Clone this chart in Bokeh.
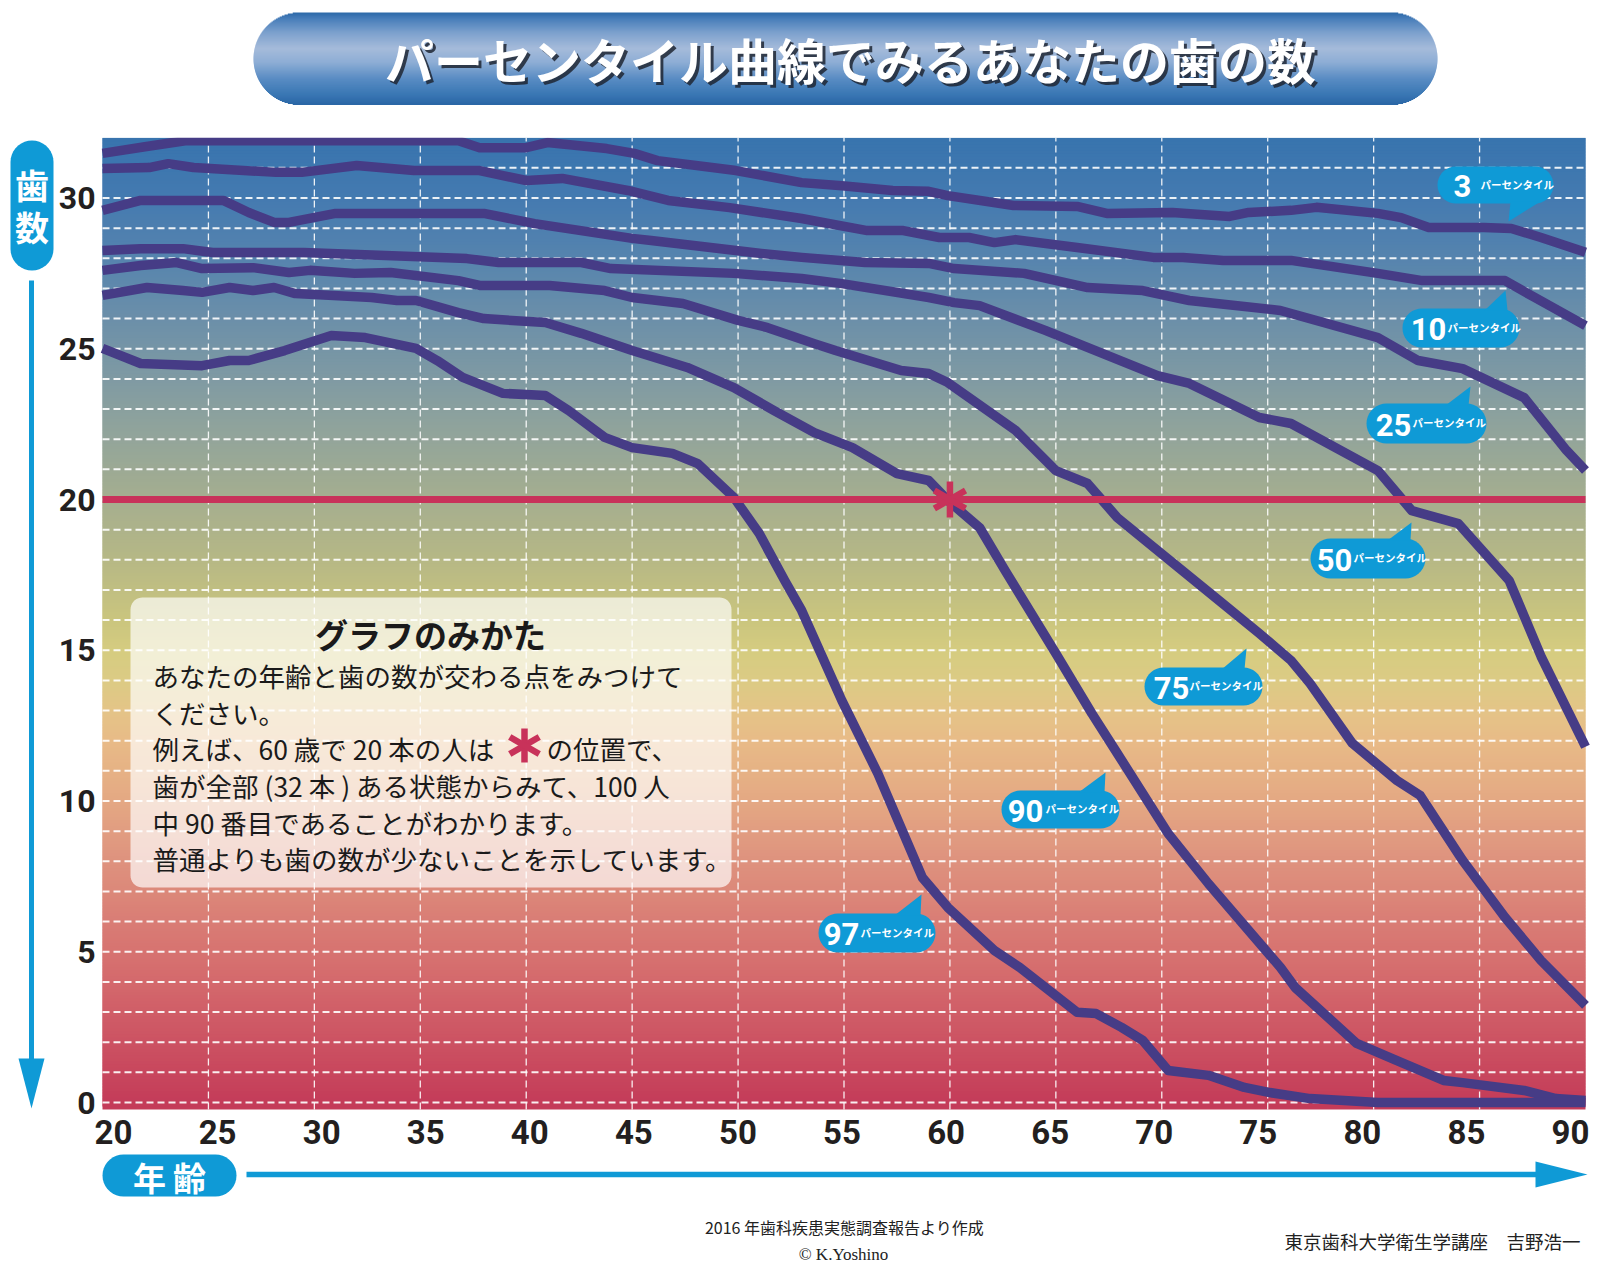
import numpy as np
from bokeh.plotting import figure
from bokeh.models import Range1d
from bokeh.core.properties import value
from bokeh.embed import file_html
from bokeh.resources import INLINE

# ---------------- data ----------------
age_p3 = [20, 22, 23.9, 30, 36.8, 37.8, 40.0, 41.0, 43.8, 45.1, 46.2, 49.9, 53.0, 54.9, 57.3, 59.0, 59.9,
          63.0, 66.0, 67.4, 70.5, 73.2, 74.1, 76.1, 77.3, 80.2, 81.3, 82.6, 85.2, 86.5, 87.9, 90]
teeth_p3 = [31.48, 31.7, 31.9, 31.9, 31.9, 31.67, 31.67, 31.84, 31.64, 31.48, 31.24, 30.91, 30.51, 30.41, 30.25,
            30.22, 30.08, 29.75, 29.72, 29.49, 29.52, 29.39, 29.52, 29.59, 29.69, 29.49, 29.35, 29.02, 29.02,
            28.99, 28.69, 28.2]

age_p10 = [20, 22.2, 23.1, 24.3, 28.2, 29.4, 32.0, 34.7, 37.8, 40.0, 41.7, 44.8, 46.7, 49.6, 53.0, 56.1, 57.8,
           59.5, 60.9, 62.1, 63.1, 66.0, 69.6, 71.0, 72.9, 76.1, 80.2, 82.3, 86.2, 87.6, 90]
teeth_p10 = [30.98, 31.01, 31.14, 31.01, 30.85, 30.85, 31.08, 30.91, 30.91, 30.58, 30.65, 30.25, 29.92, 29.68,
             29.32, 28.92, 28.92, 28.69, 28.69, 28.52, 28.62, 28.36, 28.03, 28.03, 27.93, 27.93, 27.5, 27.26,
             27.26, 26.7, 25.77]

age_p25 = [20, 21.8, 25.7, 26.9, 28.1, 28.8, 31.0, 38.0, 40.4, 45.0, 45.9, 47.1, 50.7, 53.0, 56.0, 59.0, 60.2,
           63.5, 66.5, 69.1, 71.3, 75.6, 80.2, 82.1, 84.2, 87.1, 89.1, 90]
teeth_p25 = [29.59, 29.92, 29.92, 29.52, 29.19, 29.19, 29.49, 29.49, 29.15, 28.66, 28.59, 28.49, 28.19, 28.03,
             27.86, 27.83, 27.66, 27.5, 27.03, 26.93, 26.6, 26.27, 25.37, 24.61, 24.34, 23.38, 21.63, 20.96]

age_p50 = [20, 21.8, 23.8, 25.2, 29.5, 37.2, 38.7, 42.6, 44.0, 49.8, 53.0, 54.9, 59.0, 60.2, 61.4, 64.5, 69.8,
           71.3, 74.6, 76.1, 80.2, 81.8, 84.0, 86.4, 87.9, 90]
teeth_p50 = [28.26, 28.32, 28.32, 28.19, 28.19, 27.99, 27.86, 27.86, 27.66, 27.5, 27.33, 27.16, 26.7, 26.53,
             26.43, 25.61, 24.11, 23.85, 22.72, 22.52, 20.96, 19.63, 19.2, 17.31, 14.8, 11.8]

age_p75 = [20, 21.8, 23.5, 24.7, 27.1, 28.8, 29.8, 31.9, 33.6, 36.8, 37.8, 41.1, 43.7, 45.0, 47.4, 50.0, 51.4,
           53.6, 54.6, 57.7, 59.0, 59.9, 63.1, 65.0, 66.5, 67.9, 72.7, 74.6, 76.1, 77.0, 79.0, 81.1, 82.2, 84.2,
           86.2, 87.9, 90]
teeth_p75 = [27.6, 27.76, 27.86, 27.66, 27.69, 27.53, 27.6, 27.5, 27.53, 27.26, 27.1, 27.1, 26.93, 26.7, 26.5,
             25.94, 25.7, 25.17, 24.94, 24.28, 24.18, 23.88, 22.29, 20.96, 20.53, 19.4, 16.65, 15.56, 14.66,
             13.9, 11.91, 10.68, 10.18, 8.03, 6.14, 4.71, 3.22]

age_p90 = [20, 22.1, 23.8, 24.7, 26.0, 27.1, 28.1, 29.1, 32.7, 33.9, 34.8, 36.8, 38.0, 40.9, 42.6, 45.0, 47.6,
           49.8, 51.7, 53.6, 55.4, 57.5, 59.0, 59.9, 61.4, 62.6, 65.0, 66.7, 67.9, 70.3, 72.2, 75.6, 76.3, 79.2,
           81.1, 83.3, 84.2, 87.1, 88.6, 90]
teeth_p90 = [26.77, 27.03, 26.93, 26.87, 27.03, 26.93, 27.03, 26.83, 26.7, 26.6, 26.6, 26.2, 26.0, 25.87, 25.51,
             24.94, 24.38, 23.71, 22.95, 22.22, 21.72, 20.86, 20.63, 19.97, 19.07, 17.65, 14.89, 12.9, 11.58,
             8.92, 7.26, 4.48, 3.81, 1.96, 1.39, 0.73, 0.66, 0.4, 0.13, 0.07]

age_p97 = [20, 21.8, 24.7, 26.0, 26.9, 28.6, 30.8, 32.4, 34.8, 35.8, 37.0, 38.9, 40.9, 42.0, 43.7, 45.0, 46.9,
           48.1, 49.8, 51.0, 52.2, 53.0, 54.9, 56.6, 58.7, 59.9, 62.1, 63.3, 66.0, 66.9, 68.1, 69.1, 70.3, 72.2,
           73.9, 75.1, 77.0, 80.2, 90]
teeth_p97 = [25.01, 24.51, 24.44, 24.61, 24.61, 24.94, 25.44, 25.37, 25.01, 24.61, 24.05, 23.52, 23.45, 22.95,
             22.06, 21.72, 21.53, 21.19, 20.07, 18.87, 17.31, 16.32, 13.33, 10.91, 7.46, 6.47, 5.04, 4.48, 2.99,
             2.95, 2.49, 2.06, 1.06, 0.9, 0.5, 0.33, 0.13, 0.0, 0.0]

x_ticks = [20, 25, 30, 35, 40, 45, 50, 55, 60, 65, 70, 75, 80, 85, 90]
x_tick_labels = ["20", "25", "30", "35", "40", "45", "50", "55", "60", "65", "70", "75", "80", "85", "90"]
y_ticks = [0, 5, 10, 15, 20, 25, 30]
y_tick_labels = ["0", "5", "10", "15", "20", "25", "30"]

threshold_teeth = 20
example_age = 60
example_teeth = 20

percentile_names = ["3", "10", "25", "50", "75", "90", "97"]

# ---------------- layout (canvas pixels -> data) ----------------
W, H = 1600, 1268
PX_L, PX_R = 102.0, 1585.0       # age 20 .. 90
PY0, PY_TOP = 1102.0, 137.2      # teeth 0 .. 32
KX = (PX_R - PX_L) / 70.0
KY = (PY0 - PY_TOP) / 32.0


def X(px):
    return 20.0 + (px - PX_L) / KX


def Y(py):
    return (PY0 - py) / KY


def hex_rgb(h):
    return [int(h[i:i + 2], 16) for i in (1, 3, 5)]


def interp_colors(stops, vals):
    pos = [s[0] for s in stops]
    rgb = np.array([hex_rgb(s[1]) for s in stops], dtype=float)
    out = []
    for v in vals:
        c = [int(round(np.interp(v, pos, rgb[:, k]))) for k in range(3)]
        out.append("#%02x%02x%02x" % tuple(c))
    return out


def rrect(x0, y0, x1, y1, r, n=10):
    pts = []
    for cx, cy, a0 in [(x1 - r, y0 + r, -90), (x1 - r, y1 - r, 0), (x0 + r, y1 - r, 90), (x0 + r, y0 + r, 180)]:
        for t in np.linspace(np.radians(a0), np.radians(a0 + 90), n):
            pts.append((cx + r * np.cos(t), cy + r * np.sin(t)))
    return [X(a) for a, b in pts], [Y(b) for a, b in pts]


JP = value("Noto Sans CJK JP")
NUM = value("Roboto")
LINE_COLOR = "#463c86"
RED = "#c8325a"
CYAN = "#0f9ad6"

p = figure(width=W, height=H, x_range=Range1d(X(0), X(W)), y_range=Range1d(Y(H), Y(0)),
           output_backend="svg", toolbar_location=None, x_axis_location=None, y_axis_location=None,
           min_border=0, min_border_left=0, min_border_right=0, min_border_top=0, min_border_bottom=0,
           outline_line_color=None, background_fill_color="white", border_fill_color="white")
for g in p.grid:
    g.visible = False

# ---------------- plot background gradient ----------------
plot_bottom = Y(1109)
bg_stops = [(-0.5, "#c33858"), (0, "#c43c59"), (2, "#cc5262"), (4, "#d4696c"), (6, "#d97d75"), (8, "#de927e"),
            (10, "#e4a883"), (12, "#e8bb87"), (13, "#e4c487"), (14, "#dccb84"), (15, "#d5cc80"),
            (16, "#cac57e"), (18, "#b6b885"), (20, "#a5ae8f"), (22, "#93a59a"), (24, "#7f9aa3"),
            (26, "#6b8fa9"), (28, "#5684ae"), (30, "#447ab0"), (32, "#3874ae")]
bots = np.arange(plot_bottom, 32.0, 0.1)
tops = np.minimum(bots + 0.2, 32.0)
p.quad(left=20, right=90, bottom=bots, top=tops, fill_color=interp_colors(bg_stops, bots + 0.05),
       line_color=None)

# ---------------- grid ----------------
h_levels = list(range(0, 32))
p.segment(x0=[20] * len(h_levels), y0=h_levels, x1=[90] * len(h_levels), y1=h_levels,
          line_color="white", line_width=2, line_dash="7 4", line_alpha=0.9)
v_levels = x_ticks[1:-1]
p.segment(x0=v_levels, y0=[plot_bottom] * len(v_levels), x1=v_levels, y1=[32] * len(v_levels),
          line_color="white", line_width=1.3, line_dash="7 4", line_alpha=0.9)

# ---------------- percentile curves ----------------
curves = [(age_p3, teeth_p3), (age_p10, teeth_p10), (age_p25, teeth_p25), (age_p50, teeth_p50),
          (age_p75, teeth_p75), (age_p90, teeth_p90), (age_p97, teeth_p97)]
for ages, teeth in curves:
    p.line(ages, teeth, line_color=LINE_COLOR, line_width=9.5, line_join="round")

# white cover above the plot area (clip)
p.quad(left=X(0), right=X(W), bottom=32, top=Y(0), fill_color="white", line_color=None)

# 20-teeth line and example asterisk
p.segment(x0=[20], y0=[threshold_teeth], x1=[90], y1=[threshold_teeth], line_color=RED, line_width=7)
p.scatter(x=[example_age] * 3, y=[example_teeth] * 3, marker="dash", size=36,
          angle=[np.pi / 2, np.pi / 6, -np.pi / 6], line_color=RED, line_width=6.5)

# ---------------- explanation box ----------------
bx, by = rrect(130, 597, 731, 887, 12)
p.patch(bx, by, fill_color="white", fill_alpha=0.68, line_color=None)
p.text(x=[X(430)], y=[Y(633)], text=["グラフのみかた"], text_font=JP, text_font_size="33px",
       text_font_style="bold", text_color="#1a1a1a", text_align="center", text_baseline="middle")
body_lines = ["あなたの年齢と歯の数が交わる点をみつけて", "ください。", "例えば、60 歳で 20 本の人は",
              "歯が全部 (32 本 ) ある状態からみて、100 人", "中 90 番目であることがわかります。",
              "普通よりも歯の数が少ないことを示しています。"]
body_py = [675, 712, 748, 785, 822, 858]
p.text(x=[X(152)] * len(body_lines), y=[Y(v) for v in body_py], text=body_lines, text_font=JP,
       text_font_size="26.5px", text_color="#1a1a1a", text_align="left", text_baseline="middle")
p.text(x=[X(546)], y=[Y(748)], text=["の位置で、"], text_font=JP, text_font_size="26.5px",
       text_color="#1a1a1a", text_align="left", text_baseline="middle")
p.scatter(x=[X(524)] * 3, y=[Y(745)] * 3, marker="dash", size=34,
          angle=[np.pi / 2, np.pi / 6, -np.pi / 6], line_color=RED, line_width=6.5)

# ---------------- percentile bubbles ----------------
bubbles = [
    # name, body box, tail triangle, number centre x, small text x
    ("3", (1437, 166, 1553, 203), [(1510, 201), (1540, 201), (1508, 221)], 1462, 1480),
    ("10", (1402, 308, 1519, 347), [(1484, 310), (1507, 310), (1505, 290)], 1428, 1447),
    ("25", (1366, 403, 1486, 443), [(1445, 405), (1468, 405), (1470, 386)], 1393, 1412),
    ("50", (1310, 538, 1425, 578), [(1387, 540), (1410, 540), (1411, 522)], 1334, 1353),
    ("75", (1144, 667, 1262, 705), [(1221, 669), (1244, 669), (1246, 648)], 1171, 1189),
    ("90", (1001, 790, 1119, 828), [(1078, 792), (1104, 792), (1105, 772)], 1025, 1045),
    ("97", (818, 913, 935, 952), [(894, 915), (920, 915), (921, 894)], 841, 860),
]
pxs, pys = [], []
for name, (x0, y0, x1, y1), tail, ncx, sx in bubbles:
    r = (y1 - y0) / 2.0
    xs, ys = rrect(x0, y0, x1, y1, r)
    pxs.append(xs)
    pys.append(ys)
    pxs.append([X(a) for a, b in tail])
    pys.append([Y(b) for a, b in tail])
p.patches(pxs, pys, fill_color=CYAN, line_color=None)
p.text(x=[X(b[3]) for b in bubbles], y=[Y((b[1][1] + b[1][3]) / 2 + 1) for b in bubbles],
       text=[b[0] for b in bubbles], text_font=NUM, text_font_size="31px", text_font_style="bold",
       text_color="white", text_align="center", text_baseline="middle")
p.text(x=[X(b[4]) for b in bubbles], y=[Y((b[1][1] + b[1][3]) / 2 - 1) for b in bubbles],
       text=["パーセンタイル"] * len(bubbles), text_font=JP, text_font_size="10.5px",
       text_font_style="bold", text_color="white", text_align="left", text_baseline="middle")

# ---------------- title bar ----------------
ty0, ty1, tx0, tx1 = 12.0, 104.0, 253.0, 1437.0
tr = (ty1 - ty0) / 2.0
title_stops = [(12, "#2c69a8"), (18, "#477db9"), (32, "#7ca0cd"), (48, "#a5bbda"), (62, "#8dadd5"),
               (78, "#5a8cc3"), (94, "#3a77b4"), (104, "#2a66a5")]
rows = np.arange(ty0, ty1, 1.0)
lefts, rights = [], []
for py in rows:
    dy = abs(py + 0.5 - (ty0 + tr))
    inset = tr - np.sqrt(max(tr * tr - dy * dy, 0.0))
    lefts.append(X(tx0 + inset))
    rights.append(X(tx1 - inset))
p.quad(left=lefts, right=rights, top=[Y(v) for v in rows], bottom=[Y(v + 1.4) for v in rows],
       fill_color=interp_colors(title_stops, rows + 0.5), line_color=None)
title = "パーセンタイル曲線でみるあなたの歯の数"
p.text(x=[X(853)], y=[Y(61)], text=[title], text_font=JP, text_font_size="49px", text_font_style="bold",
       text_color="#1e2633", text_alpha=0.85, text_align="center", text_baseline="middle")
p.text(x=[X(850)], y=[Y(58)], text=[title], text_font=JP, text_font_size="49px", text_font_style="bold",
       text_color="white", text_align="center", text_baseline="middle")

# ---------------- axis decorations ----------------
# y axis pill + arrow
yx, yy = rrect(10, 140, 53, 270, 21.5)
p.patch(yx, yy, fill_color=CYAN, line_color=None)
p.text(x=[X(31.5), X(31.5)], y=[Y(184), Y(226)], text=["歯", "数"], text_font=JP, text_font_size="34px",
       text_font_style="bold", text_color="white", text_align="center", text_baseline="middle")
p.segment(x0=[X(31)], y0=[Y(280)], x1=[X(31)], y1=[Y(1062)], line_color=CYAN, line_width=5)
p.patch([X(18), X(44), X(31)], [Y(1058), Y(1058), Y(1108)], fill_color=CYAN, line_color=None)

# x axis pill + arrow
xx, xy = rrect(102, 1154, 236, 1196, 21)
p.patch(xx, xy, fill_color=CYAN, line_color=None)
p.text(x=[X(149), X(189)], y=[Y(1176)] * 2, text=["年", "齢"], text_font=JP, text_font_size="33px",
       text_font_style="bold", text_color="white", text_align="center", text_baseline="middle")
p.segment(x0=[X(246)], y0=[Y(1174)], x1=[X(1540)], y1=[Y(1174)], line_color=CYAN, line_width=5.5)
p.patch([X(1535), X(1535), X(1587)], [Y(1161), Y(1187), Y(1174)], fill_color=CYAN, line_color=None)

# tick labels
lab_a, lab_b = X(113), X(1570)
p.text(x=[lab_a + (t - 20) * (lab_b - lab_a) / 70.0 for t in x_ticks], y=[Y(1131)] * len(x_ticks),
       text=x_tick_labels, text_font=NUM, text_font_size="33px", text_font_style="bold",
       text_color="#231f20", text_align="center", text_baseline="middle")
p.text(x=[X(95)] * len(y_ticks), y=y_ticks, text=y_tick_labels, text_font=NUM, text_font_size="32px",
       text_font_style="bold", text_color="#231f20", text_align="right", text_baseline="middle")

# ---------------- footer ----------------
p.text(x=[X(844)], y=[Y(1226)], text=["2016 年歯科疾患実態調査報告より作成"], text_font=JP,
       text_font_size="16px", text_color="#222222", text_align="center", text_baseline="middle")
p.text(x=[X(843)], y=[Y(1254)], text=["© K.Yoshino"], text_font=value("Liberation Serif"),
       text_font_size="17px", text_color="#222222", text_align="center", text_baseline="middle")
p.text(x=[X(1580)], y=[Y(1240)], text=["東京歯科大学衛生学講座　吉野浩一"], text_font=JP,
       text_font_size="18.5px", text_color="#222222", text_align="right", text_baseline="middle")

open("out.html", "w").write(file_html(p, INLINE))
